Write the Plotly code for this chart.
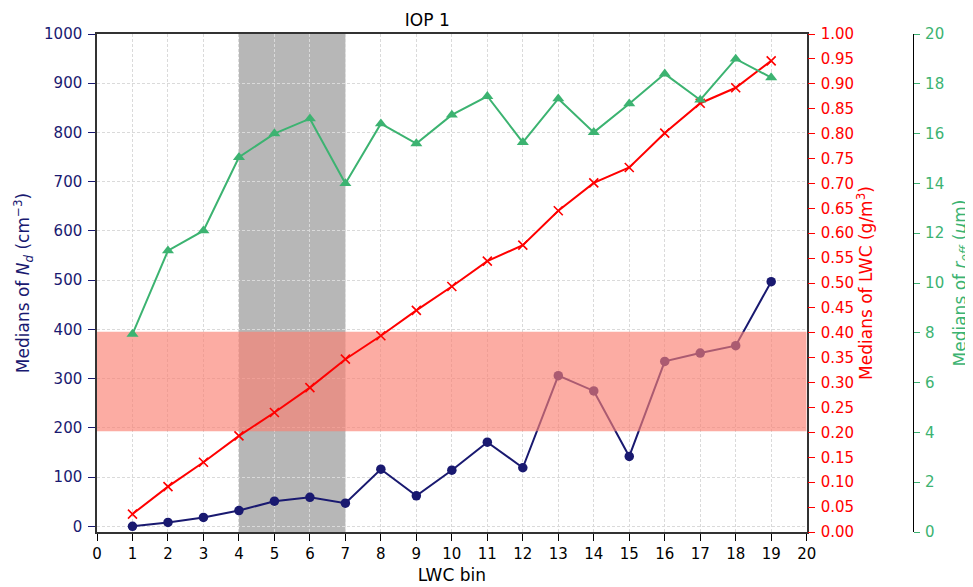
import plotly.graph_objects as go

bins = list(range(1, 20))
nd_median = [0, 8, 18, 32, 51, 59, 47, 116, 62, 114, 171, 119, 306, 275, 142, 335, 352, 367, 497]
lwc_median = [0.036, 0.091, 0.140, 0.193, 0.240, 0.290, 0.347, 0.394, 0.445, 0.493, 0.544, 0.576,
              0.645, 0.701, 0.732, 0.801, 0.861, 0.892, 0.946]
reff_median = [7.95, 11.3, 12.1, 15.05, 16.0, 16.6, 14.0, 16.4, 15.6, 16.75, 17.5, 15.65,
               17.4, 16.05, 17.2, 18.4, 17.35, 19.0, 18.25]
highlight_bins = [4, 7]
nd_band = [193, 395]
x_ticks = list(range(0, 21))
nd_ticks = list(range(0, 1001, 100))
lwc_ticks = [round(i * 0.05, 2) for i in range(21)]
reff_ticks = list(range(0, 21, 2))

NAVY = "#191970"
RED = "#ff0000"
GREEN = "#3cb371"
FONT = "DejaVu Sans"

fig = go.Figure()

fig.add_trace(go.Scatter(
    x=bins, y=nd_median, mode="lines+markers", xaxis="x", yaxis="y",
    line=dict(color=NAVY, width=2), marker=dict(symbol="circle", size=9.5, color=NAVY),
    hoverinfo="skip", showlegend=False))

# red band on Nd axis, drawn above the Nd line
fig.add_trace(go.Scatter(
    x=[x_ticks[0], x_ticks[-1], x_ticks[-1], x_ticks[0], x_ticks[0]],
    y=[nd_band[0], nd_band[0], nd_band[1], nd_band[1], nd_band[0]],
    mode="lines", fill="toself", fillcolor="rgba(250,128,114,0.65)",
    line=dict(width=0, color="rgba(0,0,0,0)"), xaxis="x", yaxis="y",
    hoverinfo="skip", showlegend=False))

fig.add_trace(go.Scatter(
    x=bins, y=lwc_median, mode="lines+markers", xaxis="x", yaxis="y2",
    line=dict(color=RED, width=2),
    marker=dict(symbol="x-thin", size=9, color=RED, line=dict(color=RED, width=1.6)),
    hoverinfo="skip", showlegend=False))

fig.add_trace(go.Scatter(
    x=bins, y=reff_median, mode="lines+markers", xaxis="x", yaxis="y3",
    line=dict(color=GREEN, width=2), marker=dict(symbol="triangle-up", size=10.5, color=GREEN),
    hoverinfo="skip", showlegend=False))

fig.add_shape(type="rect", xref="x", yref="paper", x0=highlight_bins[0], x1=highlight_bins[1],
              y0=0, y1=1, fillcolor="rgba(128,128,128,0.57)", line=dict(width=0), layer="below")

grid = dict(showgrid=True, gridcolor="#dadada", griddash="3px,2px", gridwidth=0.8)

fig.update_layout(
    width=965, height=579, autosize=False,
    margin=dict(l=89, r=60, t=26, b=55),
    paper_bgcolor="white", plot_bgcolor="white",
    font=dict(family=FONT, size=15, color="black"),
    title=dict(text="IOP 1", x=0.4345, xanchor="center", yref="container", y=0.979,
               yanchor="middle", font=dict(size=17, color="black")),
    xaxis=dict(domain=[0, 0.8697], range=[0, 20], tickvals=x_ticks, ticks="outside", ticklen=7,
               tickcolor="black", showline=True, linecolor="#333", linewidth=1.5, mirror=True,
               zeroline=False, automargin=False,
               title=dict(text="LWC bin", font=dict(size=17), standoff=7), **grid),
    yaxis=dict(range=[-11.5, 1000], tickvals=nd_ticks, ticks="outside", ticklen=7,
               ticklabelstandoff=3,
               tickcolor=NAVY, tickfont=dict(color=NAVY), showline=True, linecolor="#333",
               linewidth=1.5, mirror=True, zeroline=False, automargin=False,
               title=dict(text="Medians of <i>N</i><sub><i>d</i></sub> (cm<sup>−3</sup>)",
                          font=dict(size=17, color=NAVY), standoff=10), **grid),
    yaxis2=dict(range=[0, 1], tickvals=lwc_ticks, tickformat=".2f", overlaying="y", side="right",
                anchor="x", ticks="outside", ticklen=7, ticklabelstandoff=3,
                tickcolor=RED, tickfont=dict(color=RED),
                showgrid=False, zeroline=False, showline=False, automargin=False,
                title=dict(text="Medians of LWC (g/m<sup>3</sup>)", font=dict(size=17, color=RED),
                           standoff=5)),
    yaxis3=dict(range=[0, 20], tickvals=reff_ticks, overlaying="y", side="right", anchor="free",
                position=1, ticks="outside", ticklen=6, ticklabelstandoff=2,
                tickcolor=GREEN, tickfont=dict(color=GREEN),
                showgrid=False, zeroline=False, showline=True, linecolor="black", linewidth=1.2,
                automargin=False,
                title=dict(text="Medians of <i>r</i><sub><i>eff</i></sub> (<i>μ</i>m)",
                           font=dict(size=17, color=GREEN), standoff=10)),
)

fig.write_html("out.html")
